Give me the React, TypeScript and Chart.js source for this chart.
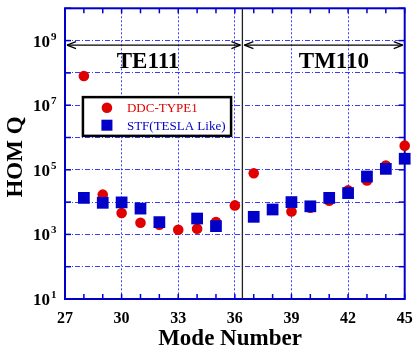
import React, { useEffect, useRef } from "react";
import { Chart, registerables } from "chart.js";

Chart.register(...registerables);

// ---- data ----
const modes = [28, 29, 30, 31, 32, 33, 34, 35, 36, 37, 38, 39, 40, 41, 42, 43, 44, 45];
const ddcType1 = [8.0e7, 1.7e4, 4.6e3, 2.3e3, 2.0e3, 1.4e3, 1.5e3, 2.4e3, 7.9e3, 7.8e4, 6.0e3, 5.1e3, 6.7e3, 1.1e4, 2.3e4, 4.7e4, 1.35e5, 5.6e5];
const stfTesla = [1.35e4, 9.5e3, 9.8e3, 6.3e3, 2.4e3, null, 3.1e3, 1.8e3, null, 3.5e3, 5.9e3, 1.0e4, 7.4e3, 1.35e4, 1.9e4, 6.2e4, 1.07e5, 2.2e5];
const xTickLabels = [27, 30, 33, 36, 39, 42, 45];
const yTickExponents = [1, 3, 5, 7, 9];
const seriesNames = ["DDC-TYPE1", "STF(TESLA Like)"];
const bandNames = ["TE111", "TM110"];
const xMin = 27;
const xMax = 45;
const yMinExp = 1;
const yMaxExp = 10;
const boundaryMode = 36.4;

const RED = "#e00000";
const BLUE = "#0000c8";
const AXIS_BLUE = "#0000cc";
const GRID_BLUE = "#3c3cff";
const SERIF = "'Liberation Serif', 'Times New Roman', serif";

function toPoints(vals: (number | null)[]) {
  const pts: { x: number; y: number }[] = [];
  vals.forEach((v, i) => {
    if (v !== null) pts.push({ x: modes[i], y: v });
  });
  return pts;
}

function line(ctx: CanvasRenderingContext2D, x1: number, y1: number, x2: number, y2: number) {
  ctx.beginPath();
  ctx.moveTo(x1, y1);
  ctx.lineTo(x2, y2);
  ctx.stroke();
}

function arrow(ctx: CanvasRenderingContext2D, x1: number, x2: number, y: number) {
  line(ctx, x1, y, x2, y);
  line(ctx, x1, y, x1 + 9, y - 3.5);
  line(ctx, x1, y, x1 + 9, y + 3.5);
  line(ctx, x2, y, x2 - 9, y - 3.5);
  line(ctx, x2, y, x2 - 9, y + 3.5);
}

const framePlugin = {
  id: "frame",
  beforeDatasetsDraw(chart: any) {
    const { ctx, chartArea: a } = chart;
    ctx.save();
    ctx.strokeStyle = AXIS_BLUE;
    ctx.lineWidth = 2;
    ctx.strokeRect(a.left, a.top, a.right - a.left, a.bottom - a.top);
    ctx.lineWidth = 1.5;
    const xs = chart.scales.x;
    const ys = chart.scales.y;
    for (const t of xs.ticks) {
      const px = xs.getPixelForValue(t.value);
      line(ctx, px, a.bottom, px, a.bottom - 5);
      line(ctx, px, a.top, px, a.top + 5);
    }
    for (const t of ys.ticks) {
      const py = ys.getPixelForValue(t.value);
      line(ctx, a.left, py, a.left + 6, py);
      line(ctx, a.right, py, a.right - 6, py);
    }
    ctx.restore();
  },
};

const decorPlugin = {
  id: "decor",
  afterDatasetsDraw(chart: any) {
    const { ctx, chartArea: a } = chart;
    const xs = chart.scales.x;
    const ys = chart.scales.y;
    ctx.save();

    // boundary line
    const bx = xs.getPixelForValue(boundaryMode);
    ctx.strokeStyle = "#222";
    ctx.lineWidth = 1.3;
    line(ctx, bx, a.top, bx, a.bottom);

    // band arrows
    ctx.strokeStyle = "#000";
    ctx.lineWidth = 1.2;
    const ay = ys.getPixelForValue(Math.pow(10, 8.86));
    arrow(ctx, a.left + 2, bx - 2, ay);
    arrow(ctx, bx + 2, a.right - 2, ay);

    // band labels
    ctx.fillStyle = "#000";
    ctx.font = `bold 23px ${SERIF}`;
    ctx.textAlign = "center";
    ctx.textBaseline = "middle";
    const ly = ys.getPixelForValue(Math.pow(10, 8.34));
    ctx.fillText(bandNames[0], xs.getPixelForValue(31.4), ly);
    ctx.fillText(bandNames[1], xs.getPixelForValue(41.25), ly);

    // legend
    const lx = xs.getPixelForValue(27.95);
    const ltop = ys.getPixelForValue(Math.pow(10, 7.25));
    const lbot = ys.getPixelForValue(Math.pow(10, 6.05));
    const lright = xs.getPixelForValue(35.8);
    ctx.fillStyle = "#fff";
    ctx.fillRect(lx, ltop, lright - lx, lbot - ltop);
    ctx.strokeStyle = "#000";
    ctx.lineWidth = 2.5;
    ctx.strokeRect(lx, ltop, lright - lx, lbot - ltop);
    const ds = chart.data.datasets;
    const rowH = (lbot - ltop) / 2;
    ctx.font = `13px ${SERIF}`;
    ctx.textAlign = "left";
    ctx.textBaseline = "middle";
    ds.forEach((d: any, i: number) => {
      const cy = ltop + rowH * (i + 0.5) + (i === 0 ? 1 : -1);
      const cx = lx + 24;
      ctx.fillStyle = d.backgroundColor;
      if (d.pointStyle === "rect") {
        ctx.fillRect(cx - 5.5, cy - 5.5, 11, 11);
      } else {
        ctx.beginPath();
        ctx.arc(cx, cy, 5.3, 0, Math.PI * 2);
        ctx.fill();
      }
      ctx.fillText(d.label, lx + 44, cy + 1);
    });

    // y tick labels with superscripts
    ctx.fillStyle = "#000";
    for (const e of yTickExponents) {
      const py = ys.getPixelForValue(Math.pow(10, e));
      ctx.font = `bold 17px ${SERIF}`;
      ctx.textAlign = "right";
      ctx.textBaseline = "alphabetic";
      ctx.fillText("10", a.left - 15, py + 6);
      ctx.font = `bold 11px ${SERIF}`;
      ctx.textAlign = "left";
      ctx.fillText(String(e), a.left - 14, py - 1);
    }

    // x tick labels
    ctx.font = `bold 16px ${SERIF}`;
    ctx.textAlign = "center";
    ctx.textBaseline = "alphabetic";
    for (const v of xTickLabels) {
      ctx.fillText(String(v), xs.getPixelForValue(v), a.bottom + 24);
    }

    // axis titles
    ctx.font = `bold 23px ${SERIF}`;
    ctx.fillText("Mode Number", 230, a.bottom + 46);
    ctx.save();
    ctx.translate(16, 157);
    ctx.rotate(-Math.PI / 2);
    ctx.textBaseline = "middle";
    ctx.fillText("HOM Q", 0, 0);
    ctx.restore();

    ctx.restore();
  },
};

export default function App() {
  const ref = useRef<HTMLCanvasElement | null>(null);

  useEffect(() => {
    document.body.style.margin = "0";
    const canvas = ref.current;
    if (!canvas) return;
    const chart = new Chart(canvas, {
      type: "scatter",
      data: {
        datasets: [
          {
            label: seriesNames[0],
            data: toPoints(ddcType1),
            pointStyle: "circle",
            pointRadius: 5.3,
            backgroundColor: RED,
            borderWidth: 0,
            order: 2,
            clip: false,
          } as any,
          {
            label: seriesNames[1],
            data: toPoints(stfTesla),
            pointStyle: "rect",
            pointRadius: 8.3,
            backgroundColor: BLUE,
            borderWidth: 0,
            order: 1,
            clip: false,
          } as any,
        ],
      },
      options: {
        responsive: false,
        maintainAspectRatio: false,
        animation: false,
        layout: { padding: { top: 7, right: 5, left: 0, bottom: 0 } },
        plugins: { legend: { display: false }, tooltip: { enabled: false } },
        scales: {
          x: {
            type: "linear",
            min: xMin,
            max: xMax,
            afterBuildTicks: (scale: any) => {
              const t = [];
              for (let v = xMin; v <= xMax; v++) t.push({ value: v });
              scale.ticks = t;
            },
            afterFit: (scale: any) => {
              scale.height = 51;
              scale.paddingLeft = 0;
              scale.paddingRight = 0;
            },
            ticks: { display: false },
            grid: {
              drawTicks: false,
              lineWidth: 1,
              color: (c: any) => {
                const v = c.tick ? c.tick.value : 0;
                return v % 3 === 0 && v !== xMin && v !== xMax ? GRID_BLUE : "rgba(0,0,0,0)";
              },
            },
            border: { display: false, dash: [2, 2] },
          },
          y: {
            type: "logarithmic",
            min: Math.pow(10, yMinExp),
            max: Math.pow(10, yMaxExp),
            afterBuildTicks: (scale: any) => {
              const t = [];
              for (let e = yMinExp; e <= yMaxExp; e++) t.push({ value: Math.pow(10, e), major: true });
              scale.ticks = t;
            },
            afterFit: (scale: any) => {
              scale.width = 65;
            },
            ticks: { display: false },
            grid: {
              drawTicks: false,
              lineWidth: 1,
              color: (c: any) => {
                const v = c.tick ? c.tick.value : 0;
                return v > Math.pow(10, yMinExp) * 1.5 && v < Math.pow(10, yMaxExp) / 1.5 ? GRID_BLUE : "rgba(0,0,0,0)";
              },
            },
            border: { display: false, dash: [5, 2, 1, 2] },
          },
        },
      },
      plugins: [framePlugin, decorPlugin],
    });
    return () => chart.destroy();
  }, []);

  return (
    <div style={{ width: 413, height: 350 }}>
      <canvas ref={ref} width={413} height={350} style={{ display: "block" }} />
    </div>
  );
}
